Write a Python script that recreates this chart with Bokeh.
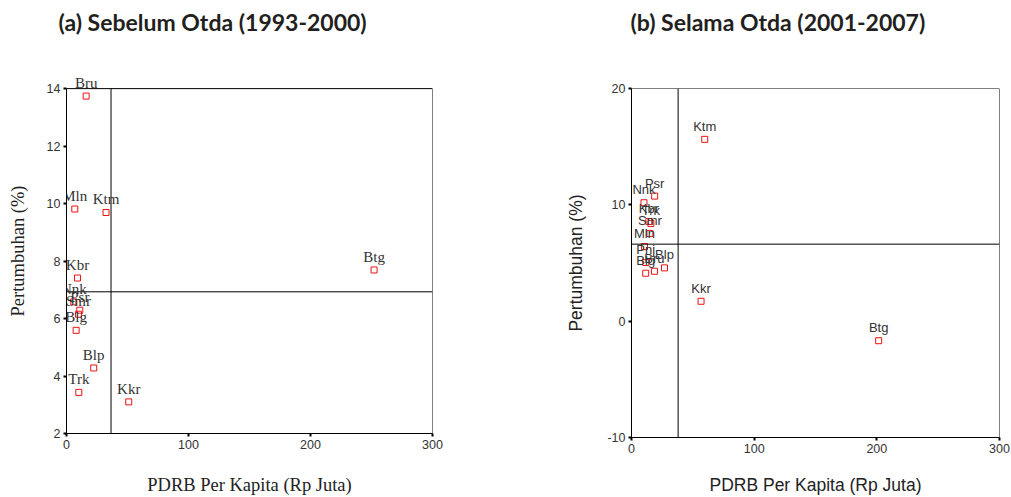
from bokeh.plotting import figure
from bokeh.models import Span, ColumnDataSource, FixedTicker, Range1d, Title, LabelSet
from bokeh.layouts import row
from bokeh.core.properties import value
from bokeh.embed import file_html
from bokeh.resources import INLINE

# ---- data: (a) Sebelum Otda (1993-2000)
left_names = ["Bru", "Mln", "Ktm", "Kbr", "Nnk", "Psr", "Smr", "Blg", "Blp", "Trk", "Kkr", "Btg"]
left_x = [16.1, 6.8, 32.4, 9.0, 6.0, 10.9, 9.8, 7.9, 22.3, 10.1, 51.0, 252.1]
left_y = [13.74, 9.81, 9.69, 7.41, 6.58, 6.29, 6.15, 5.59, 4.28, 3.43, 3.10, 7.69]
left_vline = 36.5
left_hline = 6.93
left_yticks = [2, 4, 6, 8, 10, 12, 14]
left_ylim = (2, 14)

# ---- data: (b) Selama Otda (2001-2007)
right_names = ["Ktm", "Psr", "Nnk", "Kbr", "Trk", "Smr", "Mln", "Pnj", "Bru", "Blp", "Blg", "Kkr", "Btg"]
right_x = [59.7, 18.9, 10.2, 14.2, 15.8, 15.0, 10.6, 11.6, 18.7, 26.9, 11.6, 56.7, 201.5]
right_y = [15.63, 10.75, 10.18, 8.57, 8.40, 7.54, 6.41, 5.04, 4.29, 4.58, 4.12, 1.71, -1.68]
right_vline = 38.0
right_hline = 6.62
right_yticks = [-10, 0, 10, 20]
right_ylim = (-10, 20)

xlim = (0, 300)
xticks = [0, 100, 200, 300]


def make(title, names, xs, ys, vline, hline, yticks, ylim, yext, width, mb_left, mb_right,
         mb_top, mb_bottom, spacer_standoff, label_font, label_size, title_font, title_size,
         title_offset, x_title_standoff, y_title_standoff):
    p = figure(width=width, height=497, output_backend="svg", toolbar_location=None,
               title=None,
               x_range=Range1d(*xlim), y_range=Range1d(ylim[0], ylim[1] + yext),
               min_border_left=mb_left, min_border_right=mb_right,
               min_border_top=mb_top, min_border_bottom=mb_bottom)
    p.frame_align = False
    # spacer title (closest to frame) then the real title above it
    p.add_layout(Title(text=" ", text_font_size="20px", standoff=spacer_standoff), "above")
    p.add_layout(Title(text=title, align="left", offset=title_offset, standoff=0,
                       text_font="Lato", text_font_size="23px", text_font_style="bold",
                       text_color="#231f20"), "above")
    p.grid.visible = False
    p.outline_line_color = None
    p.background_fill_color = "white"
    p.border_fill_color = "white"
    for ax in (p.xaxis[0], p.yaxis[0]):
        ax.axis_line_color = "black"
        ax.major_tick_in = 0
        ax.major_tick_out = 3
        ax.major_tick_line_width = 2
        ax.major_tick_line_color = "black"
        ax.minor_tick_out = 0
        ax.minor_tick_in = 0
        ax.major_label_text_font = "Liberation Sans"
        ax.major_label_text_font_size = "12.5px"
        ax.major_label_text_color = "#333333"
        ax.major_label_standoff = 3
        ax.axis_label_text_font = title_font
        ax.axis_label_text_font_size = title_size
        ax.axis_label_text_font_style = "normal"
        ax.axis_label_text_color = "#222222"
    p.yaxis.bounds = ylim
    p.xaxis.ticker = FixedTicker(ticks=xticks)
    p.yaxis.ticker = FixedTicker(ticks=yticks)
    p.yaxis.major_label_overrides = {t: str(t) for t in yticks}
    p.xaxis.axis_label = "PDRB Per Kapita (Rp Juta)"
    p.yaxis.axis_label = "Pertumbuhan (%)"
    p.xaxis.axis_label_standoff = x_title_standoff
    p.yaxis.axis_label_standoff = y_title_standoff

    # frame box at the axis limits
    p.quad(left=[xlim[0]], right=[xlim[1]], bottom=[ylim[0]], top=[ylim[1]],
           fill_color=None, line_color="black", line_width=1)
    # mean reference lines
    p.segment(x0=[vline], y0=[ylim[0]], x1=[vline], y1=[ylim[1]], line_color="black", line_width=1)
    p.add_layout(Span(location=hline, dimension="width", line_color="black", line_width=1))

    src = ColumnDataSource(dict(x=xs, y=ys, name=names))
    p.scatter("x", "y", source=src, marker="square", size=6, line_color="#ee1111",
              fill_color=None, line_width=1)
    labels = LabelSet(x="x", y="y", text="name", source=src, text_align="center",
                      text_baseline="middle", y_offset=13, text_font=value(label_font),
                      text_font_size=value(label_size), text_color=value("#333333"))
    p.add_layout(labels)
    return p


# left: y range extended ~20px above 14 so the "Bru" label can sit over the top line
p1 = make("(a) Sebelum Otda (1993-2000)", left_names, left_x, left_y, left_vline, left_hline,
          left_yticks, left_ylim, 0.70, 505, 66, 73, 68, 64, 9,
          "Liberation Serif", "15px", "Liberation Serif", "18.5px", -8, 23, 16)
p2 = make("(b) Selama Otda (2001-2007)", right_names, right_x, right_y, right_vline, right_hline,
          right_yticks, right_ylim, 0.0, 506, 126, 12, 88, 60, 29,
          "Liberation Sans", "13px", "Liberation Sans", "17.5px", -1, 19, 18)

layout = row(p1, p2)
open("out.html", "w").write(file_html(layout, INLINE))
